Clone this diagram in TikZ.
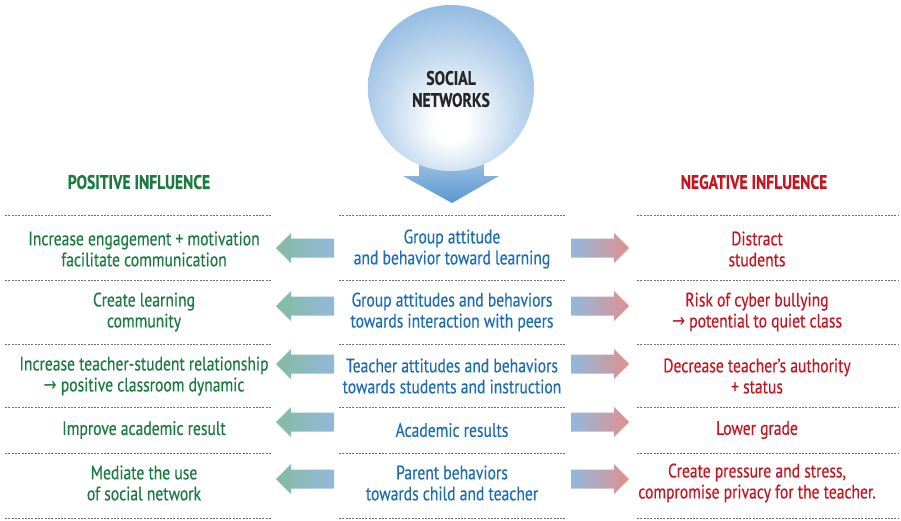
\documentclass[tikz,border=0pt]{standalone}
\usepackage{fontspec}
\setmainfont{PT Sans}[FakeStretch=0.8, FakeBold=0.35]
\newfontfamily\arrowfont{DejaVu Sans}[FakeStretch=0.8]

\definecolor{posgreen}{HTML}{1A7A40}
\definecolor{midblue}{HTML}{1D6DB5}
\definecolor{negred}{HTML}{C8141E}
\definecolor{ballblue}{HTML}{5A97D2}
\definecolor{arrowgreen}{HTML}{86BBA0}
\definecolor{arrowblue}{HTML}{92B8DD}
\definecolor{arrowpink}{HTML}{E0918F}
\definecolor{rulegray}{HTML}{6E6E6E}

% soft white spot slightly below the centre of the ball
\pgfdeclareradialshading{ballshading}{\pgfpoint{0bp}{-12bp}}{%
  color(0bp)=(white); color(5bp)=(white); color(20bp)=(ballblue!38);
  color(38bp)=(ballblue!80); color(52bp)=(ballblue); color(70bp)=(ballblue)}

\newcommand{\sideto}{{\arrowfont →}}

\begin{document}
\begin{tikzpicture}[x=1pt,y=-1pt,
  txt/.style={align=center, font=\fontsize{19.5}{21}\selectfont, inner sep=0pt},
  postxt/.style={txt, text=posgreen},
  midtxt/.style={txt, text=midblue},
  negtxt/.style={txt, text=negred},
  header/.style={font=\fontsize{19.5}{21}\selectfont\bfseries, inner sep=0pt},
  rowrule/.style={rulegray, line width=0.7pt, dash pattern=on 2pt off 1.3pt},
]
\useasboundingbox (0,0) rectangle (901,520);

% central arrow pointing down out of the ball
\shade[top color=arrowblue!75!white, bottom color=ballblue]
  (419,150) -- (484,150) -- (484,176) -- (499,176) -- (452,203)
  -- (403,176) -- (419,176) -- cycle;
% the ball
\shade[shading=ballshading] (451,88) circle (83);
\node[font=\fontsize{19.5}{22}\selectfont\bfseries, text=black!85, align=center, inner sep=0pt]
  (social) at (451,89) {SOCIAL\\NETWORKS};

% column headers
\node[header, text=posgreen] (poshead) at (139,182) {POSITIVE INFLUENCE};
\node[header, text=negred] (neghead) at (754,182) {NEGATIVE INFLUENCE};

% dotted row separators
\foreach \y in {215,280,344,407,453,518} {
  \draw[rowrule] (5,\y) -- (272,\y);
  \draw[rowrule] (339,\y) -- (566,\y);
  \draw[rowrule] (637,\y) -- (898,\y);
}

% block arrows: central factor -> positive (left) and negative (right)
\foreach \c in {248,306,364,422,479} {
  \shade[left color=arrowgreen, right color=arrowblue]
    (334,\c-9.5) -- (291,\c-9.5) -- (291,\c-15) -- (276,\c) -- (291,\c+15)
    -- (291,\c+9.5) -- (334,\c+9.5) -- cycle;
  \shade[left color=arrowblue, right color=arrowpink]
    (571,\c-9.5) -- (614,\c-9.5) -- (614,\c-15) -- (629,\c) -- (614,\c+15)
    -- (614,\c+9.5) -- (571,\c+9.5) -- cycle;
}

% positive influence column
\node[postxt] (pos1) at (144,249) {Increase engagement + motivation\\facilitate communication};
\node[postxt] (pos2) at (144,312) {Create learning\\community};
\node[postxt] (pos3) at (144,376) {Increase teacher-student relationship\\\sideto\ positive classroom dynamic};
\node[postxt] (pos4) at (144,430) {Improve academic result};
\node[postxt] (pos5) at (144,483) {Mediate the use\\of social network};

% central factors
\node[midtxt] (mid1) at (452,249) {Group attitude\\and behavior toward learning};
\node[midtxt] (mid2) at (452,312) {Group attitudes and behaviors\\towards interaction with peers};
\node[midtxt] (mid3) at (452,376) {Teacher attitudes and behaviors\\towards students and instruction};
\node[midtxt] (mid4) at (452,430) {Academic results};
\node[midtxt] (mid5) at (452,483) {Parent behaviors\\towards child and teacher};

% negative influence column
\node[negtxt] (neg1) at (757,249) {Distract\\students};
\node[negtxt] (neg2) at (757,312) {Risk of cyber bullying\\\sideto\ potential to quiet class};
\node[negtxt] (neg3) at (757,376) {Decrease teacher’s authority\\+ status};
\node[negtxt] (neg4) at (757,430) {Lower grade};
\node[negtxt] (neg5) at (757,483) {Create pressure and stress,\\compromise privacy for the teacher.};
\end{tikzpicture}
\end{document}
